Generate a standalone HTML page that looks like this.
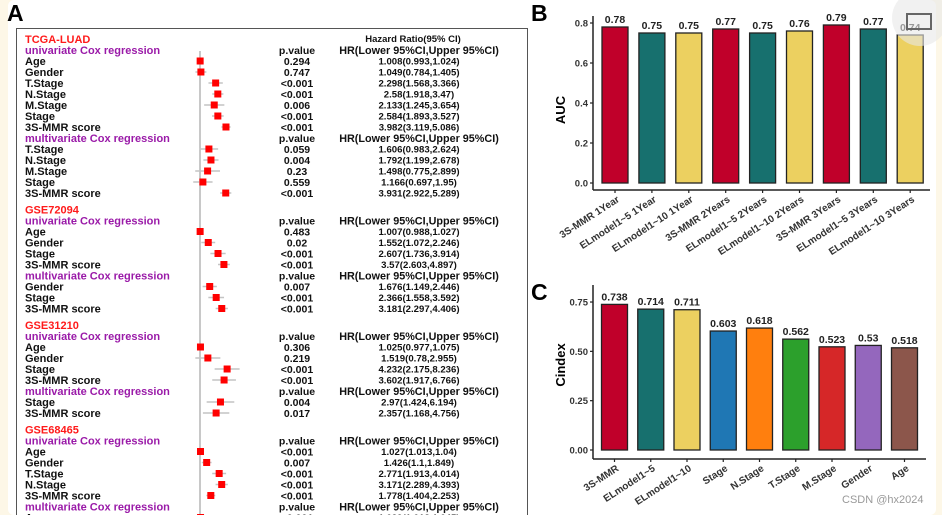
<!DOCTYPE html>
<html><head><meta charset="utf-8"><style>
html,body{margin:0;padding:0;background:#fdf7e7;width:942px;height:515px;overflow:hidden}
#wrap{position:absolute;left:8px;top:0;width:928px;height:515px;background:#fff;border-radius:6px}
svg{position:absolute;left:0;top:0}
text{font-family:"Liberation Sans",sans-serif;font-weight:bold}
</style></head><body>
<div id="wrap"></div>
<svg id="fig" width="942" height="515"></svg>
<script>
// ===== Panel A forest data =====
const rowType = ['g','u','d','d','d','d','d','d','d','m','d','d','d','d','d',
 'g','u','d','d','d','d','m','d','d','d',
 'g','u','d','d','d','d','m','d','d',
 'g','u','d','d','d','d','d','m','d'];
const rowLabel = ['TCGA-LUAD','univariate Cox regression','Age','Gender','T.Stage','N.Stage','M.Stage','Stage','3S-MMR score','multivariate Cox regression','T.Stage','N.Stage','M.Stage','Stage','3S-MMR score',
 'GSE72094','univariate Cox regression','Age','Gender','Stage','3S-MMR score','multivariate Cox regression','Gender','Stage','3S-MMR score',
 'GSE31210','univariate Cox regression','Age','Gender','Stage','3S-MMR score','multivariate Cox regression','Stage','3S-MMR score',
 'GSE68465','univariate Cox regression','Age','Gender','T.Stage','N.Stage','3S-MMR score','multivariate Cox regression','Age'];
const rowP = ['','','0.294','0.747','<0.001','<0.001','0.006','<0.001','<0.001','','0.059','0.004','0.23','0.559','<0.001',
 '','','0.483','0.02','<0.001','<0.001','','0.007','<0.001','<0.001',
 '','','0.306','0.219','<0.001','<0.001','','0.004','0.017',
 '','','<0.001','0.007','<0.001','<0.001','<0.001','','<0.001'];
const rowHR = [null,null,1.008,1.049,2.298,2.58,2.133,2.584,3.982,null,1.606,1.792,1.498,1.166,3.931,
 null,null,1.007,1.552,2.607,3.57,null,1.676,2.366,3.181,
 null,null,1.025,1.519,4.232,3.602,null,2.97,2.357,
 null,null,1.027,1.426,2.771,3.171,1.778,null,1.029];
const rowLo = [null,null,0.993,0.784,1.568,1.918,1.245,1.893,3.119,null,0.983,1.199,0.775,0.697,2.922,
 null,null,0.988,1.072,1.736,2.603,null,1.149,1.558,2.297,
 null,null,0.977,0.78,2.175,1.917,null,1.424,1.168,
 null,null,1.013,1.1,1.913,2.289,1.404,null,1.013];
const rowHi = [null,null,1.024,1.405,3.366,3.47,3.654,3.527,5.086,null,2.624,2.678,2.899,1.95,5.289,
 null,null,1.027,2.246,3.914,4.897,null,2.446,3.592,4.406,
 null,null,1.075,2.955,8.236,6.766,null,6.194,4.756,
 null,null,1.04,1.849,4.014,4.393,2.253,null,1.045];
const rowCI = ['','','1.008(0.993,1.024)','1.049(0.784,1.405)','2.298(1.568,3.366)','2.58(1.918,3.47)','2.133(1.245,3.654)','2.584(1.893,3.527)','3.982(3.119,5.086)','','1.606(0.983,2.624)','1.792(1.199,2.678)','1.498(0.775,2.899)','1.166(0.697,1.95)','3.931(2.922,5.289)',
 '','','1.007(0.988,1.027)','1.552(1.072,2.246)','2.607(1.736,3.914)','3.57(2.603,4.897)','','1.676(1.149,2.446)','2.366(1.558,3.592)','3.181(2.297,4.406)',
 '','','1.025(0.977,1.075)','1.519(0.78,2.955)','4.232(2.175,8.236)','3.602(1.917,6.766)','','2.97(1.424,6.194)','2.357(1.168,4.756)',
 '','','1.027(1.013,1.04)','1.426(1.1,1.849)','2.771(1.913,4.014)','3.171(2.289,4.393)','1.778(1.404,2.253)','','1.029(1.013,1.045)'];
// ===== Panel B =====
const aucCats = ['3S-MMR 1Year','ELmodel1~5 1Year','ELmodel1~10 1Year','3S-MMR 2Years','ELmodel1~5 2Years','ELmodel1~10 2Years','3S-MMR 3Years','ELmodel1~5 3Years','ELmodel1~10 3Years'];
const aucVals = [0.78,0.75,0.75,0.77,0.75,0.76,0.79,0.77,0.74];
const aucTicks = [0,0.2,0.4,0.6,0.8];
const aucTickLabels = ['0.0','0.2','0.4','0.6','0.8'];
const aucColors = ['#c0002a','#17706e','#ecd060','#c0002a','#17706e','#ecd060','#c0002a','#17706e','#ecd060'];
// ===== Panel C =====
const ciCats = ['3S-MMR','ELmodel1~5','ELmodel1~10','Stage','N.Stage','T.Stage','M.Stage','Gender','Age'];
const ciVals = [0.738,0.714,0.711,0.603,0.618,0.562,0.523,0.53,0.518];
const ciTicks = [0,0.25,0.5,0.75];
const ciTickLabels = ['0.00','0.25','0.50','0.75'];
const ciColors = ['#c0002a','#17706e','#ecd060','#1f77b4','#ff7f0e','#2ca02c','#d62728','#9467bd','#8c564b'];

const NS='http://www.w3.org/2000/svg';
const svg=document.getElementById('fig');
function el(tag,attrs,parent,txt){const e=document.createElementNS(NS,tag);for(const k in attrs)e.setAttribute(k,attrs[k]);if(txt!==undefined)e.textContent=txt;(parent||svg).appendChild(e);return e;}

// ---------- Panel A ----------
const gA=el('g',{});


const la=el('text',{x:7,y:21,'font-size':23,fill:'#000'},gA,'A');


const box=el('rect',{x:16.5,y:28.5,width:511,height:495,fill:'#fff',stroke:'#555','stroke-width':1},gA);


const x1=200, pxPerLn=18.8;
function hx(v){return x1+Math.log(v)*pxPerLn;}
const refLine=el('line',{x1:x1,x2:x1,y1:51,y2:515,stroke:'#bbb','stroke-width':1.6},gA);


const hdr=el('text',{x:413,y:42,'font-size':9.5,'text-anchor':'middle',fill:'#111'},gA,'Hazard Ratio(95% CI)');


let y=39;
for(let i=0;i<rowType.length;i++){
  if(i>0){ y += (rowType[i]==='g') ? 16.5 : 11; }
  const t=rowType[i];
  const fill = t==='g'?'#ff1a1a':(t==='u'||t==='m')?'#9a1aa8':'#111';
  const lab=el('text',{x:25,y:y+4,'font-size':11,fill:fill},gA,rowLabel[i]);
  
  
  if(t==='u'||t==='m'){
    const p=el('text',{x:297,y:y+4,'font-size':10.5,'text-anchor':'middle',fill:'#111'},gA,'p.value');
    
    
    const h=el('text',{x:419,y:y+4,'font-size':10.8,'text-anchor':'middle',fill:'#111'},gA,'HR(Lower 95%CI,Upper 95%CI)');
    
    
  }
  if(t==='d'){
    const w=el('line',{x1:hx(rowLo[i]),x2:hx(rowHi[i]),y1:y,y2:y,stroke:'#c4c4c4','stroke-width':1.5},gA);
    
    
    const s=el('rect',{x:hx(rowHR[i])-3.5,y:y-3.5,width:7,height:7,fill:'#ff0000'},gA);
    
    
    const p=el('text',{x:297,y:y+4,'font-size':10.5,'text-anchor':'middle',fill:'#111'},gA,rowP[i]);
    
    
    const h=el('text',{x:419,y:y+3.5,'font-size':9.6,'text-anchor':'middle',fill:'#111'},gA,rowCI[i]);
    
    
  }
}

// ---------- bar chart helper ----------
function barChart(o){
  const g=el('g',{});
  
  
  const yS=v=>o.y0-v*o.ppu;
  const xS=i=>o.xFirst+i*o.step;
  const L=el('text',{x:o.lx,y:o.ly,'font-size':23,fill:'#000'},g,o.letter);
  
  
  const ya=el('line',{x1:o.axX,x2:o.axX,y1:o.axTop,y2:o.axBase,stroke:'#222','stroke-width':1.5},g);
  
  
  const xa=el('line',{x1:o.axX,x2:o.axRight,y1:o.axBase,y2:o.axBase,stroke:'#222','stroke-width':1.5},g);
  
  
  o.ticks.forEach((t,k)=>{
    const tk=el('line',{x1:o.axX-3,x2:o.axX,y1:yS(t),y2:yS(t),stroke:'#222','stroke-width':1.2},g);
    
    
    const tl=el('text',{x:o.axX-5,y:yS(t)+3.5,'font-size':9.5,'text-anchor':'end',fill:'#333'},g,o.tickLabels[k]);
    
    
  });
  const yt=el('text',{x:0,y:0,'font-size':13,'text-anchor':'middle',fill:'#000',transform:`translate(${o.ytX},${o.ytY}) rotate(-90)`},g,o.yTitle);
  
  
  o.vals.forEach((v,i)=>{
    const cx=xS(i);
    const b=el('rect',{x:cx-13,y:yS(v),width:26,height:o.y0-yS(v),fill:o.colors[i],stroke:'#222','stroke-width':1.3},g);
    
    
    const vl=el('text',{x:cx,y:yS(v)-4,'font-size':10.5,'text-anchor':'middle',fill:'#222'},g,o.valLabels?o.valLabels[i]:String(v));
    
    
    const tk=el('line',{x1:cx,x2:cx,y1:o.axBase,y2:o.axBase+3,stroke:'#222','stroke-width':1.2},g);
    
    
    const xl=el('text',{x:0,y:0,'font-size':10,'text-anchor':'end',fill:'#333',transform:`translate(${cx+5},${o.axBase+11}) rotate(-33)`},g,o.cats[i]);
    
    
  });
}
barChart({name:'auc-chart',letter:'B',lx:531,ly:21,axX:593,axTop:16,axBase:190,axRight:930,y0:183,ppu:200,
  xFirst:615,step:36.9,ticks:aucTicks,tickLabels:aucTickLabels,vals:aucVals,colors:aucColors,cats:aucCats,
  yTitle:'AUC',ytX:565,ytY:110,valLabels:aucVals.map(v=>v.toFixed(2))});
barChart({name:'cindex-chart',letter:'C',lx:531,ly:300,axX:593,axTop:285,axBase:459,axRight:926,y0:450,ppu:197.3,
  xFirst:614.5,step:36.25,ticks:ciTicks,tickLabels:ciTickLabels,vals:ciVals,colors:ciColors,cats:ciCats,
  yTitle:'Cindex',ytX:565,ytY:365});

// watermark icon & text
const glow=el('circle',{cx:920,cy:18,r:28,fill:'#e8e8e8',opacity:0.6});


const ic=el('rect',{x:907,y:14,width:24,height:15,fill:'none',stroke:'#666','stroke-width':2});


const wm=el('text',{x:842,y:503,'font-size':11,fill:'#999',style:'font-weight:normal'},svg,'CSDN @hx2024');


</script>
</body></html>
